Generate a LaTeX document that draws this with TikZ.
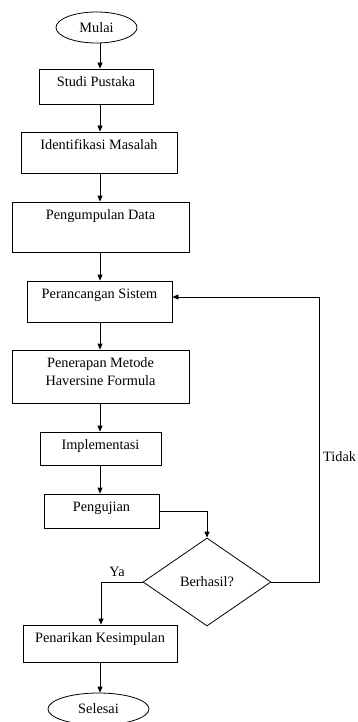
\documentclass[tikz,border=0pt]{standalone}
\usepackage{fontspec}
\setmainfont{Liberation Serif}
\usetikzlibrary{shapes.geometric,arrows.meta}
\begin{document}
\begin{tikzpicture}[x=1pt,y=-1pt,
  every node/.style={font=\fontsize{14.3}{18}\selectfont},
  box/.style={draw, rectangle, line width=0.8pt, inner xsep=2pt, inner ysep=4.5pt, text height=13pt, minimum width=#1},
  term/.style={draw, ellipse, line width=0.8pt, inner sep=0pt},
  dec/.style={draw, diamond, line width=0.8pt, inner sep=0pt, aspect=1.4545, minimum width=128pt, minimum height=88pt},
  arr/.style={line width=0.8pt, -{Triangle[length=6pt,width=5pt]}},
  ln/.style={line width=0.8pt}]
\useasboundingbox (0,0) rectangle (357,722);
\coordinate (xl) at (100,0);
\node[term, minimum width=81pt, minimum height=31pt] (mulai) at (96.5,27.5) {Mulai};
\node[box=114pt, text depth=13pt] (studi) at (96,86.5) {Studi Pustaka};
\node[box=156pt, text depth=19pt] (ident) at (99,152.5) {Identifikasi Masalah};
\node[box=177pt, text depth=28pt] (peng) at (100.5,227) {Pengumpulan Data};
\node[box=145pt, text depth=19pt] (peran) at (99.5,301.5) {Perancangan Sistem};
\node[box=177pt, text depth=31pt] (pener) at (100.5,376.5) {\begin{tabular}[t]{@{}c@{}}Penerapan Metode\\Haversine Formula\end{tabular}};
\node[box=121pt, text depth=11pt] (impl) at (100.5,448.5) {Implementasi};
\node[box=115pt, text depth=12pt] (uji) at (101.5,511) {Pengujian};
\node[dec] (hasil) at (207,582) {Berhasil?};
\node[box=154pt, text depth=15pt] (tarik) at (100,643.5) {Penarikan Kesimpulan};
\node[term, minimum width=101pt, minimum height=32pt] (selesai) at (98.5,709) {Selesai};
\node[anchor=west, inner sep=0pt] (tidak) at (323,457) {Tidak};
\node[inner sep=0pt] (ya) at (117,572) {Ya};
\draw[arr] (mulai.south -| xl) -- (studi.north -| xl);
\draw[arr] (studi.south -| xl) -- (ident.north -| xl);
\draw[arr] (ident.south -| xl) -- (peng.north -| xl);
\draw[arr] (peng.south -| xl) -- (peran.north -| xl);
\draw[arr] (peran.south -| xl) -- (pener.north -| xl);
\draw[arr] (pener.south -| xl) -- (impl.north -| xl);
\draw[arr] (impl.south -| xl) -- (uji.north -| xl);
\draw[arr] (uji.east) -| (hasil.north);
\coordinate (rt) at (319,297);
\draw[arr] (hasil.east) -| (rt) -- (peran.east |- rt);
\coordinate (lt) at (101,0);
\draw[arr] (hasil.west) -| (tarik.north -| lt);
\draw[arr] (tarik.south -| xl) -- (selesai.north -| xl);
\end{tikzpicture}
\end{document}
